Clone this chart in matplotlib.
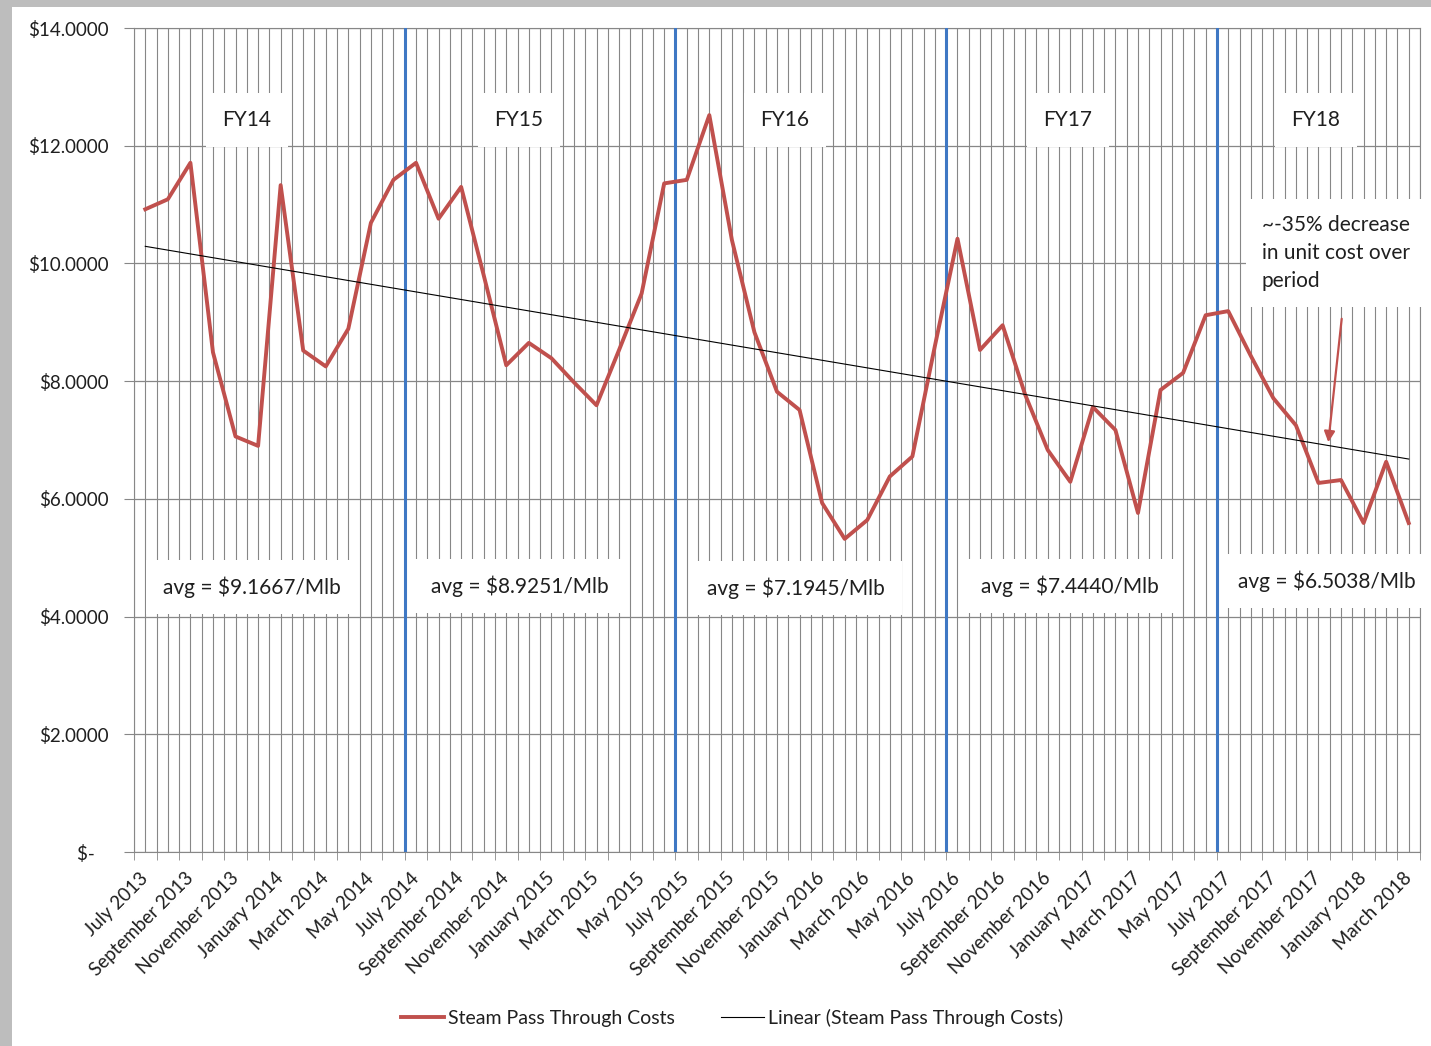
import numpy as np
import matplotlib
matplotlib.use('Agg')
import matplotlib.pyplot as plt
from matplotlib.patches import Rectangle

# monthly steam pass through cost ($/Mlb), July 2013 .. March 2018
months = ['July', 'August', 'September', 'October', 'November', 'December',
          'January', 'February', 'March', 'April', 'May', 'June']
month_labels = []
year = 2013
for i in range(57):
    m = months[i % 12]
    if m == 'January':
        year += 1
    month_labels.append(f'{m} {year}')

costs = [10.92, 11.09, 11.71, 8.49, 7.06, 6.90, 11.33, 8.52, 8.25, 8.89, 10.69, 11.42,
         11.71, 10.76, 11.30, 9.80, 8.27, 8.65, 8.39, 7.98, 7.59, 8.53, 9.49, 11.36,
         11.42, 12.52, 10.40, 8.83, 7.82, 7.51, 5.93, 5.32, 5.64, 6.38, 6.72, 8.60,
         10.42, 8.53, 8.95, 7.77, 6.83, 6.29, 7.56, 7.17, 5.76, 7.85, 8.14, 9.12,
         9.19, 8.43, 7.71, 7.25, 6.27, 6.32, 5.59, 6.63, 5.59]

fy_names = ['FY14', 'FY15', 'FY16', 'FY17', 'FY18']
fy_avgs = ['avg = $9.1667/Mlb', 'avg = $8.9251/Mlb', 'avg = $7.1945/Mlb',
           'avg = $7.4440/Mlb', 'avg = $6.5038/Mlb']
fy_starts = [11.5, 23.5, 35.5, 47.5]  # boundaries before each July

plt.rcParams['font.family'] = ['Lato', 'DejaVu Sans']

RED = '#c0504d'
GRID = '#878787'
TXT = '#1f1f1f'

fig = plt.figure(figsize=(14.31, 10.46), dpi=100, facecolor='#bdbdbd')
fig.patches.append(Rectangle((12 / 1431, 0), 1, 1 - 7 / 1046, transform=fig.transFigure,
                             facecolor='white', edgecolor='none', zorder=-5))
ax = fig.add_axes([134 / 1431, 1 - 852 / 1046, (1420 - 134) / 1431, (852 - 28) / 1046])
ax.set_facecolor('white')

x = np.arange(len(costs))
ax.set_xlim(-0.5, len(costs) - 0.5)
ax.set_ylim(0, 14)

# grid: vertical lines at every half month, horizontal every $2
ax.vlines(np.arange(-0.5, len(costs), 0.5), 0, 14, color=GRID, lw=0.8, zorder=1)
for yv in range(0, 15, 2):
    ax.axhline(yv, color=GRID, lw=0.9, zorder=1)

for b in fy_starts:
    ax.axvline(b, color='#3f78c4', lw=2.2, zorder=4)

ax.plot(x, costs, color=RED, lw=2.8, zorder=5, label='Steam Pass Through Costs')
coef = np.polyfit(x, costs, 1)
ax.plot(x, np.polyval(coef, x), color='black', lw=0.8, zorder=6,
        label='Linear (Steam Pass Through Costs)')

# ticks
ax.set_yticks(range(0, 15, 2))
ax.set_yticklabels([f'${v:.4f}' if v else '$-   ' for v in range(0, 15, 2)])
ax.tick_params(axis='y', length=7, color=GRID, pad=11, labelsize=13.5, labelcolor=TXT)
ax.set_xticks(x[::2])
ax.set_xticklabels(month_labels[::2], rotation=45, ha='right', va='center',
                   rotation_mode='anchor')
ax.set_xticks(np.arange(-0.5, len(costs), 1), minor=True)
ax.tick_params(axis='x', which='major', length=0, pad=17, labelsize=13.5, labelcolor=TXT)
ax.tick_params(axis='x', which='minor', length=6, color=GRID)
for s in ax.spines.values():
    s.set_color(GRID)
    s.set_linewidth(0.8)

def px2x(px):
    return (px - 134) / ((1420 - 134) / len(costs)) - 0.5

def px2y(py):
    return (852 - py) / ((852 - 28) / 14)

box = dict(boxstyle='square,pad=0.8', facecolor='white', edgecolor='none')
fy_px = [247, 519, 785, 1068, 1316]
for name, px in zip(fy_names, fy_px):
    ax.text(px2x(px), px2y(120), name, ha='center', va='center', fontsize=15,
            color=TXT, bbox=box, zorder=3)

avg_px = [(252, 587), (520, 586), (796, 588), (1070, 586), (1327, 581)]
for label, (px, py) in zip(fy_avgs, avg_px):
    ax.text(px2x(px), px2y(py), label, ha='center', va='center', fontsize=15,
            color=TXT, bbox=dict(boxstyle='square,pad=0.8', facecolor='white',
                                 edgecolor='none'), zorder=3, clip_on=False)

ax.text(px2x(1262), px2y(253), '~-35% decrease\nin unit cost over\nperiod', ha='left',
        va='center', fontsize=15, color=TXT, linespacing=1.5, zorder=3, clip_on=False,
        bbox=dict(boxstyle='square,pad=0.75', facecolor='white', edgecolor='none'))
ax.annotate('', xy=(px2x(1328), px2y(445)), xytext=(px2x(1342), px2y(316)),
            arrowprops=dict(arrowstyle='-|>', color=RED, lw=1.6, mutation_scale=16),
            zorder=7)

fig.legend(loc='center', bbox_to_anchor=(732 / 1431, 1 - 1018 / 1046), ncol=2,
           frameon=False, fontsize=14, handlelength=2.2, handletextpad=0.2,
           columnspacing=2.4, labelcolor=TXT)

fig.savefig('out.png', dpi=100, facecolor=fig.get_facecolor())
